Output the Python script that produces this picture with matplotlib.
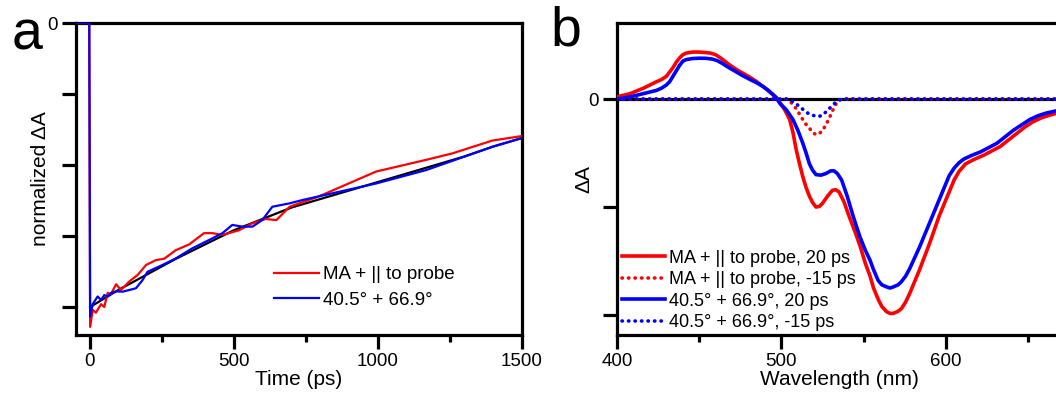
import matplotlib
matplotlib.use("Agg")
import matplotlib.pyplot as plt
from matplotlib.ticker import FixedLocator

plt.rcParams['font.family'] = ['Liberation Sans', 'DejaVu Sans']

# ---------------- Panel a data ----------------
t_red = [-47, -1, 2, 11, 22, 40, 51, 63, 74, 92, 109, 138, 167, 196, 230, 259, 299, 345, 397,
         426, 461, 518, 565, 611, 648, 694, 797, 994, 1167, 1259, 1397, 1500]
a_red = [0, 0, -1.07, -1.01, -1.02, -0.99, -1.00, -0.95, -0.955, -0.92, -0.94, -0.91, -0.887,
         -0.852, -0.835, -0.83, -0.80, -0.78, -0.74, -0.74, -0.746, -0.73, -0.705, -0.69,
         -0.694, -0.647, -0.61, -0.523, -0.482, -0.459, -0.414, -0.398]

t_blue = [-47, -1, 2, 11, 28, 40, 51, 63, 74, 92, 115, 138, 161, 184, 201, 253, 299, 357, 415,
          461, 495, 530, 565, 599, 634, 694, 740, 994, 1167, 1397, 1500]
a_blue = [0, 0, -1.034, -0.99, -0.963, -0.975, -0.958, -0.963, -0.951, -0.945, -0.946, -0.94,
          -0.934, -0.905, -0.876, -0.852, -0.829, -0.793, -0.764, -0.74, -0.711, -0.717,
          -0.717, -0.694, -0.647, -0.635, -0.623, -0.565, -0.518, -0.436, -0.405]

t_fit = [2, 100, 200, 300, 400, 500, 600, 700, 800, 900, 1000, 1100, 1200, 1300, 1400, 1500]
a_fit = [-1.0, -0.94, -0.885, -0.83, -0.78, -0.73, -0.69, -0.65, -0.62, -0.59, -0.56,
         -0.53, -0.50, -0.47, -0.435, -0.405]

legend_a = ["MA + || to probe", "40.5\u00b0 + 66.9\u00b0"]

# ---------------- Panel b data ----------------
wl_red = [400, 404, 408, 412, 416, 420, 424, 427, 430, 432, 434, 436, 438, 440, 442, 446, 450,
          454, 457, 460, 463, 466, 469, 473, 477, 481, 485, 488, 491, 494, 497, 499, 502, 505,
          507, 509, 511, 513, 515, 517, 519, 521, 523, 525, 528, 531, 533, 535, 538, 541, 545,
          548, 551, 554, 556, 559, 561, 564, 566, 568, 571, 573, 575.5, 578, 581, 584, 587,
          590, 593, 596, 599, 602, 605, 608, 612, 617, 623, 628, 633, 638, 643, 648, 653, 658,
          663, 670]
s_red = [0.02, 0.035, 0.05, 0.075, 0.10, 0.13, 0.16, 0.18, 0.21, 0.25, 0.29, 0.34, 0.38, 0.41,
         0.425, 0.435, 0.435, 0.43, 0.425, 0.41, 0.38, 0.345, 0.31, 0.27, 0.235, 0.20, 0.16,
         0.125, 0.09, 0.05, 0.01, -0.03, -0.10, -0.19, -0.31, -0.47, -0.60, -0.72, -0.82,
         -0.90, -0.96, -1.00, -0.995, -0.965, -0.90, -0.845, -0.84, -0.86, -0.95, -1.08,
         -1.24, -1.37, -1.52, -1.645, -1.75, -1.86, -1.92, -1.97, -1.985, -1.985, -1.965,
         -1.94, -1.88, -1.80, -1.69, -1.58, -1.46, -1.34, -1.21, -1.08, -0.97, -0.86, -0.75,
         -0.67, -0.60, -0.56, -0.52, -0.48, -0.44, -0.38, -0.32, -0.26, -0.21, -0.175, -0.15,
         -0.12]

wl_blue = [400, 404, 408, 412, 416, 420, 424, 427, 430, 432, 434, 436, 438, 440, 442, 446, 450,
           454, 458, 461, 464, 467, 471, 476, 481, 485, 489, 492, 495, 497, 499, 503, 507, 510,
           513, 515, 517, 519, 521, 524, 527, 530, 532, 534, 536.6, 540, 543.7, 547.7, 551,
           553.8, 556, 558.8, 561, 564, 566, 568, 571, 573, 575.5, 578, 581, 584, 587, 590, 593,
           596, 599, 602, 605, 608, 611, 616, 621, 626, 631, 636, 641, 646, 651, 656, 661, 670]
s_blue = [0.0, 0.01, 0.02, 0.035, 0.05, 0.065, 0.08, 0.10, 0.13, 0.16, 0.21, 0.26, 0.31, 0.35,
          0.365, 0.375, 0.378, 0.377, 0.37, 0.355, 0.33, 0.30, 0.265, 0.22, 0.18, 0.15, 0.114,
          0.08, 0.04, 0.01, -0.04, -0.10, -0.19, -0.29, -0.41, -0.50, -0.60, -0.66, -0.70,
          -0.705, -0.69, -0.665, -0.665, -0.69, -0.75, -0.90, -1.09, -1.275, -1.40, -1.49,
          -1.58, -1.68, -1.72, -1.74, -1.75, -1.74, -1.72, -1.69, -1.64, -1.57, -1.47, -1.37,
          -1.26, -1.15, -1.04, -0.93, -0.82, -0.71, -0.64, -0.59, -0.555, -0.52, -0.49, -0.45,
          -0.41, -0.35, -0.29, -0.24, -0.19, -0.155, -0.13, -0.10]

wl_red_neg = [400, 503, 505, 507, 509, 511, 513, 515, 517, 519, 521, 523, 525, 527, 529, 531,
              533, 535, 537, 670]
s_red_neg = [0, 0, -0.02, -0.05, -0.09, -0.14, -0.19, -0.235, -0.27, -0.31, -0.33, -0.32,
             -0.29, -0.24, -0.18, -0.11, -0.05, -0.01, 0, 0]

wl_blue_neg = [400, 503, 505, 507, 509, 511, 513, 515, 517, 519, 521, 523, 525, 527, 529, 531,
               533, 535, 537, 670]
s_blue_neg = [0, 0, -0.01, -0.025, -0.045, -0.07, -0.095, -0.12, -0.14, -0.15, -0.16, -0.16,
              -0.15, -0.12, -0.09, -0.06, -0.03, -0.01, 0, 0]

legend_b = ["MA + || to probe, 20 ps", "MA + || to probe, -15 ps",
            "40.5\u00b0 + 66.9\u00b0, 20 ps", "40.5\u00b0 + 66.9\u00b0, -15 ps"]

RED = "#ff0000"
BLUE = "#0000ff"

W, H = 1056, 393
fig = plt.figure(figsize=(W / 100, H / 100), dpi=100)

def px_axes(l, t, r, b):
    return fig.add_axes([l / W, 1 - b / H, (r - l) / W, (b - t) / H])

SPINE_LW = 2.3
TICK_FS = 13.5
LABEL_FS = 15

def style(ax):
    for s in ax.spines.values():
        s.set_linewidth(SPINE_LW)
    ax.tick_params(which='major', direction='out', length=10, width=SPINE_LW,
                   labelsize=TICK_FS, pad=3, top=False, right=False)
    ax.tick_params(which='minor', direction='out', length=5, width=SPINE_LW,
                   top=False, right=False)

# ---------------- Panel a ----------------
axa = px_axes(76, 23, 522, 335)
axa.plot(t_fit, a_fit, color='black', lw=1.6, zorder=2)
axa.plot(t_red, a_red, color=RED, lw=1.6, label=legend_a[0], zorder=3)
axa.plot(t_blue, a_blue, color=BLUE, lw=1.6, label=legend_a[1], zorder=4)
axa.set_xlim(-47, 1500)
axa.set_ylim(-1.0986, 0)
axa.xaxis.set_major_locator(FixedLocator([0, 500, 1000, 1500]))
axa.xaxis.set_minor_locator(FixedLocator([250, 750, 1250]))
axa.yaxis.set_major_locator(FixedLocator([0, -0.25, -0.5, -0.75, -1.0]))
axa.set_yticklabels(["0", "", "", "", ""])
style(axa)
axa.set_xlabel("Time (ps)", fontsize=LABEL_FS, labelpad=0)
axa.set_ylabel("normalized \u0394A", fontsize=LABEL_FS)
axa.yaxis.set_label_coords((50 - 76) / 446, 0.5)
axa.legend(loc='center left', bbox_to_anchor=(0.444, 0.152), frameon=False,
           fontsize=13.5, handlelength=2.4, handletextpad=0.2, labelspacing=0.46,
           borderpad=0, borderaxespad=0)
fig.text(12 / W, 1 - 50 / H, "a", fontsize=40, ha='left', va='baseline')

# ---------------- Panel b ----------------
axb = px_axes(617, 23, 1061, 335)
axb.axhline(0, color='black', lw=2.3, zorder=1)
axb.plot(wl_red, s_red, color=RED, lw=2.6, label=legend_b[0], zorder=3)
axb.plot(wl_red_neg, s_red_neg, color=RED, lw=2.6, ls=(0, (0.1, 1.7)),
         dash_capstyle='round', label=legend_b[1], zorder=4)
axb.plot(wl_blue, s_blue, color=BLUE, lw=2.6, label=legend_b[2], zorder=3)
axb.plot(wl_blue_neg, s_blue_neg, color=BLUE, lw=2.6, ls=(0, (0.1, 1.7)),
         dash_capstyle='round', label=legend_b[3], zorder=5)
axb.set_xlim(400, 670)
axb.set_ylim(-2.185, 0.704)
axb.xaxis.set_major_locator(FixedLocator([400, 500, 600]))
axb.xaxis.set_minor_locator(FixedLocator([450, 550, 650]))
axb.yaxis.set_major_locator(FixedLocator([0, -1, -2]))
axb.set_yticklabels(["0", "", ""])
style(axb)
axb.set_xlabel("Wavelength (nm)", fontsize=LABEL_FS, labelpad=0)
axb.set_ylabel("\u0394A", fontsize=LABEL_FS)
axb.yaxis.set_label_coords((593 - 617) / 444, 0.5)
axb.legend(loc='center left', bbox_to_anchor=(0.011, 0.143), frameon=False,
           fontsize=13, handlelength=2.4, handletextpad=0.2, labelspacing=0.25,
           borderpad=0, borderaxespad=0)
fig.text(550 / W, 1 - 45 / H, "b", fontsize=40, ha='left', va='baseline')

fig.savefig("out.png", dpi=100)
